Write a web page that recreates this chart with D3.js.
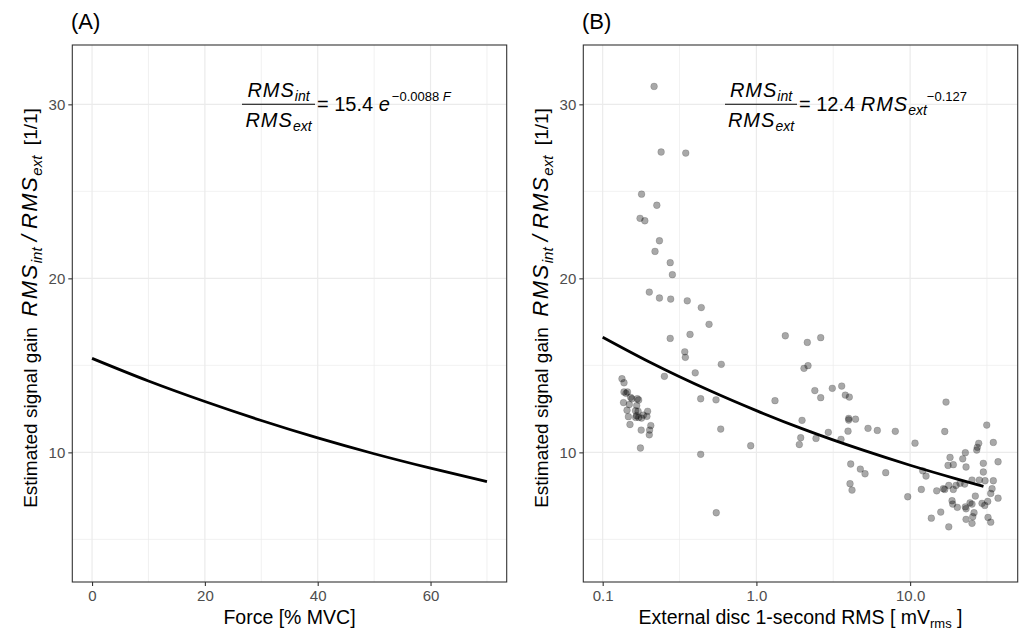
<!DOCTYPE html>
<html><head><meta charset="utf-8">
<script src="https://cdn.jsdelivr.net/npm/d3@7"></script>
<style>
body{margin:0;background:#fff;}
svg{display:block;font-family:"Liberation Sans",Arial,sans-serif;}
text{white-space:pre;}
</style></head>
<body>
<svg id="chart" width="1021" height="633"></svg>
<script>
// ---------- DATA ----------
// Panel A: fitted curve
const forceVals = [0, 10, 20, 30, 40, 50, 60, 70];
const gainA     = [15.40, 14.10, 12.92, 11.83, 10.83, 9.92, 9.09, 8.32];
const forceTicks = [0, 20, 40, 60];
const forceMinor = [10, 30, 50, 70];

// Panel B: fitted curve
const extFit  = [0.1, 0.2, 0.5, 1, 2, 5, 10, 20, 30];
const gainFit = [16.62, 15.21, 13.54, 12.40, 11.35, 10.11, 9.26, 8.48, 8.05];

// Panel B: observations (external RMS, gain)
const extRms = [
 0.216,0.240,0.347,0.179,0.225,0.175,0.188,0.234,0.219,0.275,
 0.284,0.201,0.234,0.277,0.355,0.438,0.492,0.275,0.370,1.542,
 0.342,0.345,0.591,0.400,0.252,0.434,0.546,1.321,0.586,0.918,
 0.434,0.548,
 0.1335,0.1376,0.1376,0.1418,0.145,0.152,0.155,0.168,0.1715,0.1366,
 0.149,0.1665,0.144,0.1635,0.170,0.196,0.166,0.1715,0.184,0.194,
 0.179,0.147,0.164,0.1505,0.2056,0.178,0.202,0.201,0.176,
 2.144,2.620,2.040,2.166,2.399,2.620,3.117,3.589,3.787,4.021,
 3.985,3.985,4.414,1.981,1.942,1.902,2.442,2.937,3.551,3.945,
 5.322,6.118,8.011,10.76,17.12,16.80,31.51,34.78,4.107,4.742,
 5.089,6.938,4.064,4.188,9.647,
 27.94,27.36,27.12,22.87,18.18,21.99,17.65,19.10,23.11,29.94,
 37.33,29.94,12.69,12.08,11.83,14.89,16.44,16.80,17.84,19.10,
 19.89,21.12,22.65,25.27,28.19,30.72,34.78,34.12,33.45,37.33,
 26.56,18.74,18.93,20.28,23.11,22.87,24.53,25.27,29.36,30.58,
 31.98,26.05,25.55,15.82,13.74,23.11,25.27,32.12,33.45,17.84
];
const gainObs = [
 31.03,27.26,27.20,24.84,24.20,23.45,23.31,22.16,21.55,20.90,
 20.21,19.21,18.87,18.81,18.71,18.32,17.36,16.55,16.78,16.70,
 15.78,15.46,15.06,14.57,14.37,13.08,13.02,12.97,11.34,10.38,
 9.89,6.53,
 14.23,14.00,13.47,13.39,13.47,13.16,13.08,13.08,13.01,12.86,
 12.75,12.69,12.42,12.39,12.36,12.36,12.11,12.01,12.14,12.07,
 11.97,12.05,12.01,11.60,11.54,11.28,11.28,11.01,10.25,
 16.32,16.59,14.83,14.98,13.55,13.14,13.68,13.81,13.29,13.18,
 11.95,11.86,11.91,11.84,10.84,10.45,10.80,11.15,10.75,11.22,
 11.38,11.26,11.21,10.53,12.89,11.20,11.57,10.57,9.33,9.04,
 8.77,8.83,8.20,7.83,7.45,
 10.52,10.29,10.13,9.98,9.71,9.63,9.25,9.29,9.16,9.37,
 9.46,8.87,8.64,8.94,7.87,7.79,7.91,7.87,8.10,7.87,
 8.10,8.22,8.18,8.41,8.41,8.37,8.37,7.91,7.64,7.37,
 7.49,7.22,7.03,6.84,6.76,6.87,7.10,7.03,7.07,6.95,
 7.18,6.53,6.30,6.57,6.22,6.15,5.92,6.26,5.99,5.72
];
const extTicks = [0.1, 1, 10];
const extMinor = [0.316, 3.16, 31.6];

const gainTicks = [10, 20, 30];
const gainMinor = [5, 15, 25];

// ---------- LAYOUT ----------
const svg = d3.select("#chart");
const pTop = 45, pBottom = 582;
const yDomain = [2.55, 33.41];
const panels = {
  A: {x0: 72.3, x1: 506.7},
  B: {x0: 583.3, x1: 1017.7}
};
const gridCol = "#EBEBEB";
const axisCol = "#333333";
const tickTxt = "#4D4D4D";

function makeY(){ return d3.scaleLinear().domain(yDomain).range([pBottom, pTop]); }

function drawFrame(p, x, y, xMaj, xMin, fmt){
  const g = svg.append("g");
  g.selectAll(".vmin").data(xMin).join("line")
    .attr("x1", d=>x(d)).attr("x2", d=>x(d)).attr("y1", pTop).attr("y2", pBottom)
    .attr("stroke", gridCol).attr("stroke-width", 0.7);
  g.selectAll(".hmin").data(gainMinor).join("line")
    .attr("y1", d=>y(d)).attr("y2", d=>y(d)).attr("x1", p.x0).attr("x2", p.x1)
    .attr("stroke", gridCol).attr("stroke-width", 0.7);
  g.selectAll(".vmaj").data(xMaj).join("line")
    .attr("x1", d=>x(d)).attr("x2", d=>x(d)).attr("y1", pTop).attr("y2", pBottom)
    .attr("stroke", gridCol).attr("stroke-width", 1.2);
  g.selectAll(".hmaj").data(gainTicks).join("line")
    .attr("y1", d=>y(d)).attr("y2", d=>y(d)).attr("x1", p.x0).attr("x2", p.x1)
    .attr("stroke", gridCol).attr("stroke-width", 1.2);

  const ax = svg.append("g").attr("transform", `translate(0,${pBottom})`)
    .call(d3.axisBottom(x).tickValues(xMaj).tickSize(4).tickPadding(4).tickFormat(fmt));
  const ay = svg.append("g").attr("transform", `translate(${p.x0},0)`)
    .call(d3.axisLeft(y).tickValues(gainTicks).tickSize(4).tickPadding(3).tickFormat(d3.format("d")));
  [ax, ay].forEach(a=>{
    a.select(".domain").remove();
    a.selectAll(".tick line").attr("stroke", axisCol).attr("stroke-width", 1.1);
    a.selectAll(".tick text").attr("fill", tickTxt).style("font-size","15px")
      .style("font-family","'Liberation Sans',Arial,sans-serif");
  });
}

function drawBorder(p){
  svg.append("rect").attr("x", p.x0).attr("y", pTop)
    .attr("width", p.x1 - p.x0).attr("height", pBottom - pTop)
    .attr("fill","none").attr("stroke", axisCol).attr("stroke-width", 1.1);
}

function yLabel(xpos, ymid){
  const t = svg.append("text")
    .attr("transform", `translate(${xpos},${ymid}) rotate(-90)`)
    .attr("text-anchor","middle").attr("fill","#000").style("font-size","19px");
  t.append("tspan").text("Estimated signal gain  ");
  t.append("tspan").style("font-style","italic").style("font-size","22px").style("letter-spacing","1.5px").text("RMS");
  t.append("tspan").style("font-style","italic").style("font-size","15px").attr("dy", 5).text("int");
  t.append("tspan").style("font-size","22px").style("font-style","italic").attr("dy", -5).text(" / ");
  t.append("tspan").style("font-style","italic").style("font-size","22px").style("letter-spacing","1.5px").text("RMS");
  t.append("tspan").style("font-style","italic").style("font-size","15px").attr("dy", 5).text("ext");
  t.append("tspan").attr("dy", -5).text("  [1/1]");
}

function frac(cx, left, right, yb){
  const n = svg.append("text").attr("x", cx).attr("y", yb - 7).attr("text-anchor","middle")
    .style("font-style","italic").style("font-size","20px");
  n.append("tspan").style("letter-spacing","1px").text("RMS");
  n.append("tspan").style("font-size","14px").attr("dy", 4).text("int");
  svg.append("line").attr("x1", left).attr("x2", right).attr("y1", yb).attr("y2", yb)
    .attr("stroke","#000").attr("stroke-width", 1.1);
  const d = svg.append("text").attr("x", cx).attr("y", yb + 23).attr("text-anchor","middle")
    .style("font-style","italic").style("font-size","20px");
  d.append("tspan").style("letter-spacing","1px").text("RMS");
  d.append("tspan").style("font-size","14px").attr("dy", 4).text("ext");
}

// ---------- PANEL A ----------
const xA = d3.scaleLinear().domain([-3.5, 73.5]).range([panels.A.x0, panels.A.x1]);
const yA = makeY();
drawFrame(panels.A, xA, yA, forceTicks, forceMinor, d3.format("d"));
svg.append("path")
  .datum(forceVals.map((f,i)=>[f, gainA[i]]))
  .attr("d", d3.line().x(d=>xA(d[0])).y(d=>yA(d[1])).curve(d3.curveMonotoneX))
  .attr("fill","none").attr("stroke","#000").attr("stroke-width", 2.8);
drawBorder(panels.A);

// ---------- PANEL B ----------
const xB = d3.scaleLog().domain([0.0748, 50.1]).range([panels.B.x0, panels.B.x1]);
const yB = makeY();
drawFrame(panels.B, xB, yB, extTicks, extMinor, d3.format(".1f"));
svg.append("g").selectAll("circle")
  .data(extRms.map((v,i)=>[v, gainObs[i]]))
  .join("circle")
  .attr("cx", d=>xB(d[0])).attr("cy", d=>yB(d[1])).attr("r", 3.4)
  .attr("fill","#000").attr("fill-opacity", 0.34)
  .attr("stroke","#000").attr("stroke-opacity", 0.2).attr("stroke-width", 0.7);
svg.append("path")
  .datum(extFit.map((v,i)=>[v, gainFit[i]]))
  .attr("d", d3.line().x(d=>xB(d[0])).y(d=>yB(d[1])).curve(d3.curveMonotoneX))
  .attr("fill","none").attr("stroke","#000").attr("stroke-width", 2.8);
drawBorder(panels.B);

// ---------- TEXT ----------
svg.append("text").attr("x", 71).attr("y", 29).style("font-size","22px").text("(A)");
svg.append("text").attr("x", 582).attr("y", 29).style("font-size","22px").text("(B)");

svg.append("text").attr("x", (panels.A.x0+panels.A.x1)/2).attr("y", 624)
  .attr("text-anchor","middle").style("font-size","19.5px").text("Force [% MVC]");
const xt = svg.append("text").attr("x", (panels.B.x0+panels.B.x1)/2).attr("y", 624)
  .attr("text-anchor","middle").style("font-size","19.5px");
xt.append("tspan").text("External disc 1-second RMS [ mV");
xt.append("tspan").style("font-size","13px").attr("dy", 4).text("rms");
xt.append("tspan").attr("dy", -4).text(" ]");

yLabel(37, 308);
yLabel(548, 308);

// formula A
frac(278.5, 242, 315, 104.3);
const fa = svg.append("text").attr("x", 317).attr("y", 111).style("font-size","20px");
fa.append("tspan").text("= 15.4 ");
fa.append("tspan").style("font-style","italic").text("e");
fa.append("tspan").style("font-size","13px").attr("dy", -10).attr("dx", 2).text("\u22120.0088 ");
fa.append("tspan").style("font-size","13px").style("font-style","italic").text("F");

// formula B
frac(761, 725, 797, 104.3);
const fb = svg.append("text").attr("x", 799).attr("y", 111).style("font-size","20px");
fb.append("tspan").text("= 12.4 ");
fb.append("tspan").style("font-style","italic").style("letter-spacing","1px").text("RMS");
fb.append("tspan").style("font-style","italic").style("font-size","14px").attr("dy", 4).text("ext");
fb.append("tspan").style("font-size","13px").attr("dy", -14).text("\u22120.127");
</script>
</body></html>
